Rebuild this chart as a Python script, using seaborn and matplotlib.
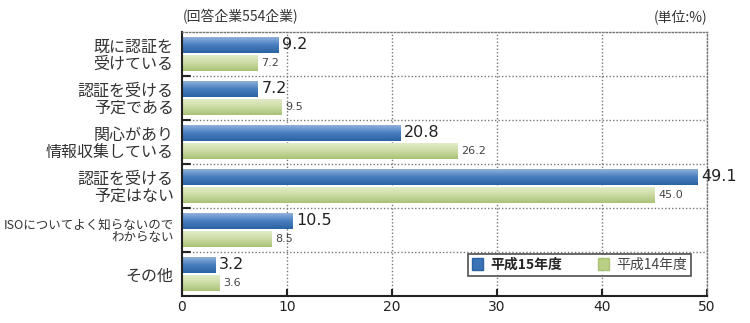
import numpy as np
import pandas as pd
import matplotlib
matplotlib.use("Agg")
import matplotlib.pyplot as plt
from matplotlib.patches import Patch
import seaborn as sns

categories = ["既に認証を\n受けている", "認証を受ける\n予定である", "関心があり\n情報収集している",
              "認証を受ける\n予定はない", "ISOについてよく知らないので\nわからない", "その他"]
h15 = [9.2, 7.2, 20.8, 49.1, 10.5, 3.2]
h14 = [7.2, 9.5, 26.2, 45.0, 8.5, 3.6]
series = ["平成15年度", "平成14年度"]
xticks = [0, 10, 20, 30, 40, 50]

sns.set_theme(style="white")
plt.rcParams["font.family"] = ["Noto Sans CJK JP", "DejaVu Sans"]

df = pd.DataFrame({
    "cat": categories * 2,
    "val": h15 + h14,
    "year": [series[0]] * len(categories) + [series[1]] * len(categories),
})

fig = plt.figure(figsize=(7.5, 3.23), dpi=100)
ax = fig.add_axes([182/750, 1-296/323, 525/750, 264/323])

blue = "#3a74b6"
green = "#b9cf86"
sns.barplot(data=df, y="cat", x="val", hue="year", hue_order=series,
            palette=[blue, green], orient="h", width=0.82, gap=0.1,
            ax=ax, legend=False, saturation=1, linewidth=0)

ax.set_xlim(0, 50)
ax.set_ylim(len(categories) - 0.5, -0.5)

def grad(c_top, c_mid, c_bot):
    from matplotlib.colors import to_rgb
    t = np.linspace(0, 1, 64)
    a, b, c = map(np.array, (to_rgb(c_top), to_rgb(c_mid), to_rgb(c_bot)))
    out = []
    for v in t:
        if v < 0.5:
            out.append(a + (b - a) * (v / 0.5))
        else:
            out.append(b + (c - b) * ((v - 0.5) / 0.5))
    return np.array(out)[:, None, :]

gb = grad("#9ab8e0", "#4a80c0", "#2a62a2")
gg = grad("#e6edcd", "#cddca6", "#a9c274")
patches = list(ax.patches)
for i, p in enumerate(patches):
    x0, y0 = p.get_x(), p.get_y()
    w, hgt = p.get_width(), p.get_height()
    img = gb if i < len(categories) else gg
    im = ax.imshow(img, extent=(x0, x0 + w, y0 + hgt, y0), aspect="auto",
                   zorder=p.get_zorder() + 0.1, interpolation="bilinear")
    im.set_clip_path(p)
ax.set_xlim(0, 50)
ax.set_ylim(len(categories) - 0.5, -0.5)

num_font = ["DejaVu Sans"]
for i, p in enumerate(patches):
    w = p.get_width()
    yc = p.get_y() + p.get_height() / 2
    if i < len(categories):
        ax.text(w + 0.35, yc, f"{h15[i]:.1f}", va="center", ha="left",
                fontsize=11.5, color="#222222", family=num_font, zorder=5)
    else:
        j = i - len(categories)
        ax.text(w + 0.35, yc, f"{h14[j]:.1f}", va="center", ha="left",
                fontsize=8, color="#444444", family=num_font, zorder=5)

for x in xticks[1:]:
    ax.axvline(x, color="#777777", linestyle=(0, (1, 1.5)), linewidth=1, zorder=0)
for k in range(len(categories) - 1):
    ax.axhline(k + 0.5, color="#777777", linestyle=(0, (1, 1.5)), linewidth=1, zorder=0)

for s in ["top", "right"]:
    ax.spines[s].set_linestyle((0, (1, 1.5)))
    ax.spines[s].set_color("#777777")
    ax.spines[s].set_linewidth(1)
for s in ["left", "bottom"]:
    ax.spines[s].set_color("#222222")
    ax.spines[s].set_linewidth(1.5)

ax.set_xticks(xticks)
ax.set_xticklabels([str(x) for x in xticks], fontsize=10, color="#222222", family=num_font)
ax.set_yticks(range(len(categories)))
ax.set_yticklabels(categories, fontsize=11.5, color="#333333", linespacing=1.0)
for lab in ax.get_yticklabels():
    if lab.get_text().startswith("ISO"):
        lab.set_fontsize(9.0)
ax.tick_params(axis="y", length=0, pad=6)
ax.tick_params(axis="x", direction="in", length=5, width=1.5, color="#222222", pad=3, bottom=True)
for k in range(len(categories) - 1):
    ax.plot([0, 0.8], [k + 0.5, k + 0.5], color="#222222", linewidth=1.5, zorder=6, clip_on=False)
ax.set_xlabel("")
ax.set_ylabel("")

fig.text(183/750, 1-17/323, "(回答企業554企業)", fontsize=10, color="#333333",
         ha="left", va="center")
fig.text(707/750, 1-17/323, "(単位:%)", fontsize=10, color="#333333",
         ha="right", va="center")

handles = [Patch(facecolor=blue, edgecolor="#2a62a2"), Patch(facecolor=green, edgecolor="#a9c274")]
leg = ax.legend(handles, ["平成15年度", "平成14年度"], ncol=2, loc="lower right",
                bbox_to_anchor=((691-182)/525, (296-276)/264), frameon=True, fancybox=False,
                edgecolor="#222222", fontsize=10, handlelength=0.8, handleheight=0.9,
                columnspacing=2.6, handletextpad=0.5, borderpad=0.3, borderaxespad=0)
leg.get_frame().set_linewidth(1.2)
leg.get_texts()[0].set_fontweight("bold")
leg.get_texts()[1].set_color("#444444")

fig.savefig("out.png", dpi=100)
